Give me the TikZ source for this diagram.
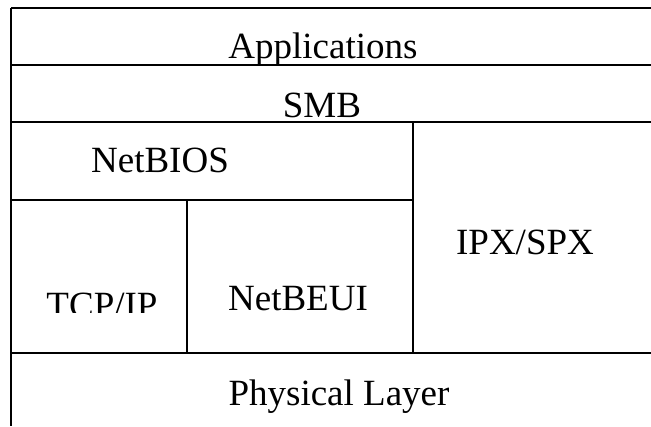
\documentclass[tikz,border=0pt]{standalone}
\usepackage{fontspec}
\setmainfont{Liberation Serif}
\begin{document}
\begin{tikzpicture}[x=1pt,y=-1pt,line width=1.6pt,
  layer/.style={anchor=base,inner sep=0,font=\fontsize{37}{44}\selectfont}]
\useasboundingbox (0,0) rectangle (651,426);
\draw (11,8) -- (651,8);
\draw (11,65) -- (651,65);
\draw (11,122) -- (651,122);
\draw (11,200) -- (413,200);
\draw (413,122) -- (413,353);
\draw (187,200) -- (187,353);
\draw (11,353) -- (651,353);
\draw (11,8) -- (11,426);
\node[layer] (apps) at (323,58) {Applications};
\node[layer] (smb) at (322,117) {SMB};
\node[layer] (netbios) at (160,172) {NetBIOS};
\node[layer] (ipxspx) at (525,254) {IPX/SPX};
\node[layer] (netbeui) at (298,310) {NetBEUI};
\begin{scope}
\clip (20,270) rectangle (180,312);
\node[layer] (tcpip) at (102,317) {TCP/IP};
\end{scope}
\node[layer] (phys) at (339,405) {Physical Layer};
\end{tikzpicture}
\end{document}
